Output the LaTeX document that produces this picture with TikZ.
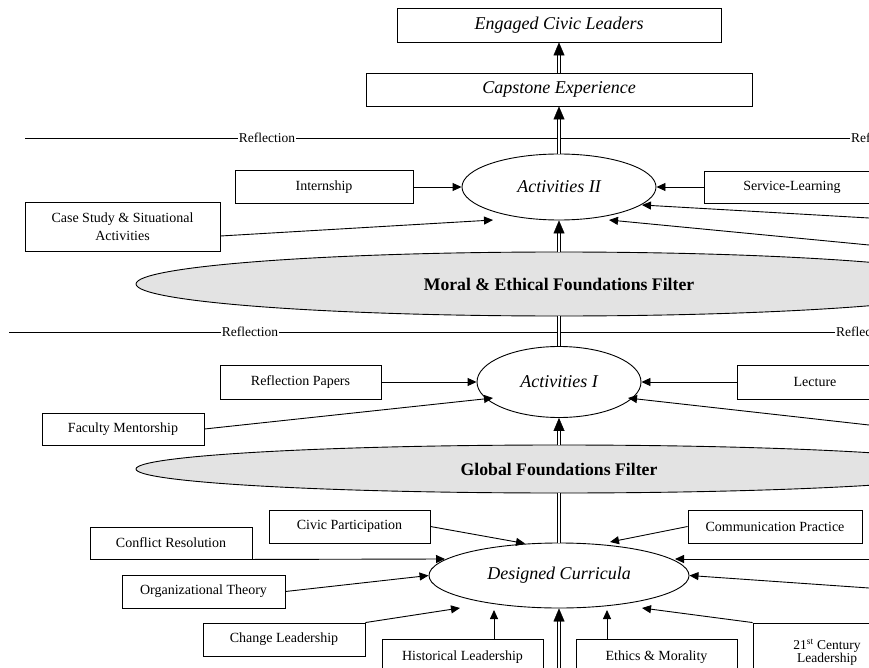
\documentclass[tikz,border=0pt]{standalone}
\usepackage{fontspec}
\setmainfont{Liberation Serif}
\usetikzlibrary{shapes.geometric,arrows.meta,calc}
\begin{document}
\begin{tikzpicture}[x=1pt,y=-1pt,
  bx/.style={draw, line width=0.9pt, fill=white, inner sep=0pt, align=center,
    font=\fontsize{14}{18}\selectfont},
  hbx/.style={bx, font=\fontsize{18}{20}\selectfont\itshape},
  ov/.style={draw, ellipse, line width=0.9pt, fill=white, inner sep=0pt,
    font=\fontsize{18}{20}\selectfont\itshape},
  flt/.style={draw, ellipse, line width=0.9pt, fill=black!11, inner sep=0pt,
    font=\fontsize{17.7}{20}\selectfont\bfseries},
  ar/.style={line width=0.9pt, -{Triangle[length=9pt,width=8pt]}},
  dl/.style={double, double distance=2.6pt, line width=0.7pt},
  dla/.style={dl, -{Triangle[length=13pt,width=11pt,line width=0.4pt]}},
  rf/.style={inner sep=1pt, font=\fontsize{13.5}{15}\selectfont},
  rl/.style={line width=0.9pt}]
\useasboundingbox (0,0) rectangle (869,668);
\fill[white] (0,0) rectangle (869,668);
\clip (0,0) rectangle (869,668);

% reflection lines
\coordinate (r1s) at (25,138);
\node[rf] (r1l) at (267,138) {Reflection};
\node[rf, anchor=west] (r1r) at (850,138) {Reflection};
\coordinate (r2s) at (9,332);
\node[rf] (r2l) at (250,332) {Reflection};
\node[rf, anchor=west] (r2r) at (835,332) {Reflection};
\draw[rl] (r1s) -- (r1l.west);
\draw[rl] (r1l.east) -- (r1r.west);
\draw[rl] (r2s) -- (r2l.west);
\draw[rl] (r2l.east) -- (r2r.west);

% top boxes
\node[hbx, minimum width=324, minimum height=34] (ecl) at (559,25) {Engaged Civic Leaders};
\node[hbx, minimum width=386, minimum height=33] (cap) at (559,89.5) {Capstone Experience};

% activities II level
\node[ov, minimum width=194, minimum height=66] (act2) at (559,187) {Activities II};
\node[bx, minimum width=178, minimum height=33] (intern) at (324,187) {Internship};
\node[bx, minimum width=176, minimum height=32] (serv) at (792,187) {Service-Learning};
\node[bx, minimum width=195, minimum height=49] (case) at (122.5,226.5) {Case Study \& Situational\\Activities};
\coordinate (ra) at (869,218);
\coordinate (rb) at (869,245);

\node[flt, minimum width=846, minimum height=64] (moral) at (559,284) {Moral \& Ethical Foundations Filter};

% activities I level
\node[ov, minimum width=164, minimum height=71] (act1) at (559,382) {Activities I};
\node[bx, minimum width=161, minimum height=34] (refpap) at (300.5,382) {Reflection Papers};
\node[bx, minimum width=156, minimum height=34] (lect) at (815,382) {Lecture};
\node[bx, minimum width=162, minimum height=32] (fac) at (123,429) {Faculty Mentorship};
\coordinate (rc) at (869,425);

\node[flt, minimum width=846, minimum height=48] (glob) at (559,469) {Global Foundations Filter};

% designed curricula level
\node[ov, minimum width=260, minimum height=65] (dc) at (559,575.5) {Designed Curricula};
\node[bx, minimum width=161, minimum height=33] (civic) at (349.5,526.5) {Civic Participation};
\node[bx, minimum width=162, minimum height=32] (conf) at (171,543) {Conflict Resolution};
\node[bx, minimum width=163, minimum height=33] (org) at (203.5,591.5) {Organizational Theory};
\node[bx, minimum width=162, minimum height=33] (chg) at (284,639.5) {Change Leadership};
\node[bx, minimum width=161, minimum height=36] (hist) at (462.5,657) {Historical Leadership};
\node[bx, minimum width=161, minimum height=36] (eth) at (656.5,657) {Ethics \& Morality};
\node[bx, minimum width=148, minimum height=58, font=\fontsize{13.5}{13}\selectfont] (c21) at (827,652) {21\textsuperscript{st} Century\\Leadership};
\node[bx, minimum width=174, minimum height=33] (comm) at (775,526.5) {Communication Practice};
\coordinate (rd) at (869,559);
\coordinate (re) at (869,588);
\coordinate (bot) at (559,700);

% double connectors
\draw[dla] (cap.north) -- (ecl.south);
\draw[dla] (act2.north) -- (cap.south);
\draw[dla] (moral.north) -- (act2.south);
\draw[dl] (act1.north) -- (moral.south);
\draw[dla] (glob.north) -- (act1.south);
\draw[dl] (dc.north) -- (glob.south);
\draw[dla] (bot) -- (dc.south);

% single arrows: activities II
\draw[ar] (intern.east) -- (act2.west);
\draw[ar] (serv.west) -- (act2.east);
\draw[ar] ($(case.east)+(0,9.5)$) -- ($(act2)+(-66,33)$);
\draw[ar] (ra) -- ($(act2)+(83,18)$);
\draw[ar] (rb) -- ($(act2)+(50,33)$);

% single arrows: activities I
\draw[ar] (refpap.east) -- (act1.west);
\draw[ar] (lect.west) -- (act1.east);
\draw[ar] (fac.east) -- ($(act1)+(-66,16)$);
\draw[ar] (rc) -- ($(act1)+(69,16)$);

% single arrows: designed curricula
\draw[ar] (civic.east) -- ($(dc)+(-34,-32)$);
\draw[ar] (conf.south east) -- ($(dc)+(-114,-16.5)$);
\draw[ar] (org.east) -- (dc.west);
\draw[ar] (chg.north east) -- ($(dc)+(-99,32.5)$);
\draw[ar] ($(hist.north)+(31.5,0)$) -- ($(dc)+(-65,34.5)$);
\draw[ar] ($(eth.north)+(-49.5,0)$) -- ($(dc)+(48,34.5)$);
\draw[ar] (c21.north west) -- ($(dc)+(83,32.5)$);
\draw[ar] (comm.west) -- ($(dc)+(51,-33.5)$);
\draw[ar] (rd) -- ($(dc)+(116,-16.5)$);
\draw[ar] (re) -- (dc.east);
\end{tikzpicture}
\end{document}
